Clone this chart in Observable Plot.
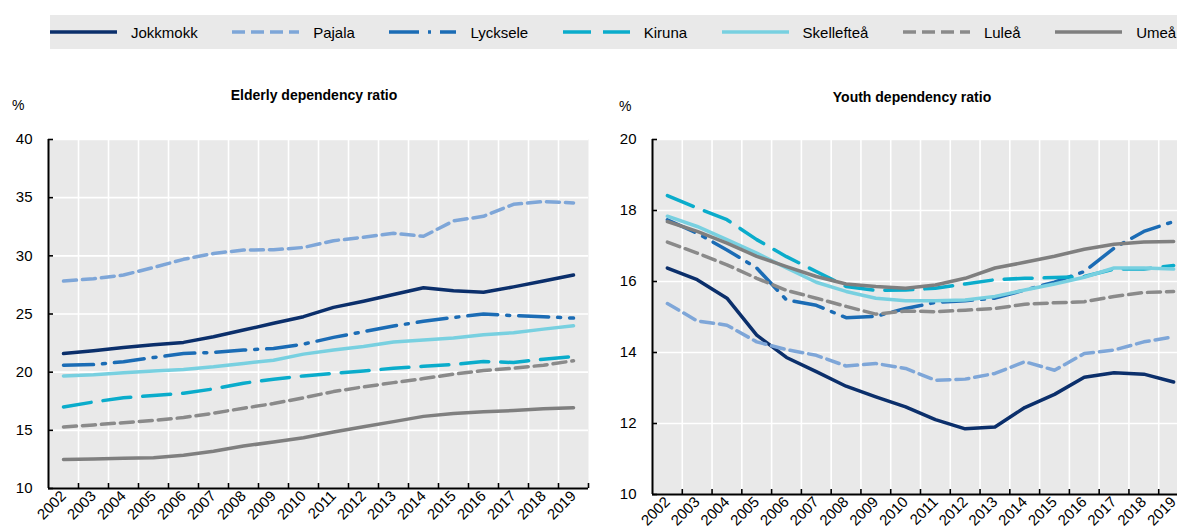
<!DOCTYPE html>
<html><head><meta charset="utf-8">
<script src="https://cdn.jsdelivr.net/npm/d3@7"></script>
<script src="https://cdn.jsdelivr.net/npm/@observablehq/plot@0.6"></script>
<style>
body{margin:0;background:#fff;width:1177px;height:532px;overflow:hidden;position:relative;font-family:"Liberation Sans",Arial,sans-serif;color:#000;}
#legend{position:absolute;left:50px;top:15px;height:34px;width:1200px;background:#e9e9e9;display:flex;align-items:center;}
.item{display:flex;align-items:center;margin-right:34.5px;font-size:15px;white-space:nowrap;}
.item svg{margin-right:14px;display:block}
.title{position:absolute;font-weight:bold;font-size:14px;transform:translateX(-50%);white-space:nowrap}
.unit{position:absolute;font-size:14px}
.chart{position:absolute;top:120px;width:600px}
.chart svg{max-width:none !important}
</style></head><body>
<div id="legend"></div>
<div class="title" style="left:314px;top:87px">Elderly dependency ratio</div>
<div class="title" style="left:912px;top:89px">Youth dependency ratio</div>
<div class="unit" style="left:12px;top:97px">%</div>
<div class="unit" style="left:619px;top:98px">%</div>
<div class="chart" id="left" style="left:0px"></div>
<div class="chart" id="right" style="left:600px"></div>
<script>
const years = [2002,2003,2004,2005,2006,2007,2008,2009,2010,2011,2012,2013,2014,2015,2016,2017,2018,2019];
const cities = ["Jokkmokk","Pajala","Lycksele","Kiruna","Skellefteå","Luleå","Umeå"];

// Elderly dependency ratio (%)
const elderlyJokkmokk  = [21.6,21.84,22.13,22.36,22.56,23.05,23.62,24.2,24.77,25.57,26.1,26.67,27.25,27.0,26.87,27.33,27.83,28.35];
const elderlyPajala    = [27.83,28.03,28.35,29.0,29.7,30.2,30.5,30.52,30.72,31.3,31.6,31.94,31.68,33.0,33.4,34.43,34.67,34.55];
const elderlyLycksele  = [20.6,20.65,20.9,21.26,21.6,21.7,21.9,22.04,22.41,22.99,23.48,23.97,24.37,24.7,25.0,24.86,24.77,24.65];
const elderlyKiruna    = [17.0,17.44,17.8,18.0,18.19,18.56,19.05,19.4,19.68,19.9,20.1,20.34,20.5,20.66,20.92,20.83,21.12,21.35];
const elderlySkelleftea= [19.68,19.77,19.94,20.09,20.23,20.46,20.75,21.03,21.55,21.9,22.21,22.59,22.76,22.93,23.22,23.39,23.7,23.99];
const elderlyLulea     = [15.29,15.46,15.66,15.86,16.1,16.47,16.9,17.3,17.8,18.33,18.74,19.1,19.45,19.83,20.14,20.34,20.6,20.98];
const elderlyUmea      = [12.5,12.53,12.59,12.64,12.85,13.2,13.65,14.0,14.37,14.86,15.3,15.75,16.2,16.45,16.6,16.7,16.85,16.95];

// Youth dependency ratio (%)
const youthJokkmokk  = [16.38,16.05,15.53,14.49,13.86,13.46,13.05,12.75,12.47,12.11,11.85,11.9,12.45,12.82,13.3,13.43,13.39,13.17];
const youthPajala    = [15.38,14.89,14.77,14.3,14.08,13.92,13.62,13.69,13.55,13.22,13.25,13.41,13.74,13.5,13.97,14.07,14.3,14.44];
const youthLycksele  = [17.74,17.36,16.89,16.38,15.48,15.33,14.98,15.02,15.24,15.41,15.46,15.53,15.76,15.98,16.28,16.94,17.41,17.69];
const youthKiruna    = [18.42,18.07,17.74,17.18,16.7,16.28,15.86,15.75,15.76,15.81,15.93,16.05,16.09,16.11,16.14,16.35,16.35,16.45];
const youthSkelleftea= [17.84,17.55,17.18,16.8,16.38,15.98,15.72,15.53,15.46,15.46,15.48,15.58,15.76,15.93,16.12,16.38,16.38,16.35];
const youthLulea     = [17.11,16.8,16.47,16.09,15.75,15.53,15.3,15.08,15.17,15.15,15.19,15.24,15.36,15.4,15.43,15.58,15.69,15.72];
const youthUmea      = [17.69,17.41,17.08,16.71,16.42,16.14,15.93,15.86,15.81,15.9,16.09,16.38,16.54,16.71,16.91,17.05,17.11,17.13];

const elderlyTicks = [10,15,20,25,30,35,40];
const youthTicks = [10,12,14,16,18,20];

const colors = {"Jokkmokk":"#0b2f6b","Pajala":"#7ea6d8","Lycksele":"#1b6cb5","Kiruna":"#0aaccb","Skellefteå":"#78d0e0","Luleå":"#8a8a8a","Umeå":"#7f7f7f"};
const dashes = {"Jokkmokk":null,"Pajala":"13,6","Lycksele":"30,9,3,9","Kiruna":"28,12","Skellefteå":null,"Luleå":"13,6","Umeå":null};

const elderlySeries = [elderlyJokkmokk,elderlyPajala,elderlyLycksele,elderlyKiruna,elderlySkelleftea,elderlyLulea,elderlyUmea];
const youthSeries = [youthJokkmokk,youthPajala,youthLycksele,youthKiruna,youthSkelleftea,youthLulea,youthUmea];

function toRows(series){
  const rows=[];
  series.forEach((vals,i)=>vals.forEach((v,j)=>rows.push({city:cities[i],year:years[j],value:v})));
  return rows;
}

// Legend
const legend = document.getElementById("legend");
cities.forEach(c=>{
  const it=document.createElement("div"); it.className="item";
  const dash = dashes[c] ? ` stroke-dasharray="${dashes[c]}"` : "";
  it.innerHTML = `<svg width="67" height="8"><line x1="0" y1="4" x2="67" y2="4" stroke="${colors[c]}" stroke-width="3.5"${dash}/></svg><span>${c}</span>`;
  legend.appendChild(it);
});

function chart(rows, yDomain, yTicks, width, height, mL, mR, mT, mB){
  const plotW = width-mL-mR, plotH = height-mT-mB;
  const bounds = years.slice(0,-1).map(y=>y+0.5);
  const xDomain = [years[0]-0.5, years[years.length-1]+0.5];
  return Plot.plot({
    width, height, marginLeft:mL, marginRight:mR, marginTop:mT, marginBottom:mB,
    style:{fontFamily:"Liberation Sans, Arial, sans-serif", fontSize:"15px", color:"#000", background:"transparent", overflow:"visible", maxWidth:"none"},
    x:{domain:xDomain},
    y:{domain:yDomain},
    marks:[
      Plot.frame({fill:"#e9e9e9", stroke:null}),
      Plot.ruleX(bounds,{x:d=>d, stroke:"#fff", strokeWidth:1.6}),
      Plot.ruleY(yTicks,{y:d=>d, stroke:"#fff", strokeWidth:1.6}),
      ...cities.map(c=>Plot.line(rows.filter(d=>d.city===c),{x:"year", y:"value", stroke:colors[c], strokeWidth:3.5, strokeDasharray:dashes[c]})),
      Plot.axisY({ticks:yTicks, tickSize:0, tickPadding:16, fontSize:15, label:null}),
      Plot.axisX({ticks:years, tickSize:0, tickRotate:-45, tickPadding:5, fontSize:15, tickFormat:d=>String(d), label:null}),
      Plot.tickX(bounds,{x:d=>d, stroke:"#000", strokeWidth:1.6, insetTop:plotH-5}),
      Plot.tickY(yTicks,{y:d=>d, stroke:"#000", strokeWidth:1.6, insetRight:plotW-5}),
      Plot.ruleX([xDomain[0]],{x:d=>d, stroke:"#000", strokeWidth:2}),
      Plot.ruleX([xDomain[1]],{x:d=>d, y1:yDomain[0], y2:yDomain[0]+(yDomain[1]-yDomain[0])*5/plotH, stroke:"#000", strokeWidth:1.6}),
      Plot.ruleY([yDomain[0]],{y:d=>d, stroke:"#000", strokeWidth:2})
    ]
  });
}

document.getElementById("left").appendChild(chart(toRows(elderlySeries),[10,40],elderlyTicks,600,412,48,12,19,44));
document.getElementById("right").appendChild(chart(toRows(youthSeries),[10,20],youthTicks,600,412,52,12,19,38));
</script>
</body></html>
